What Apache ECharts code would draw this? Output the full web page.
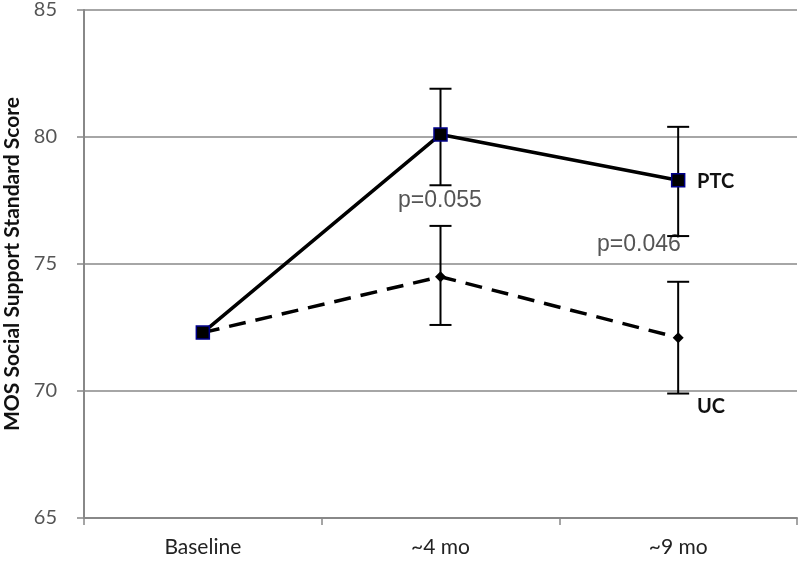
<!DOCTYPE html>
<html>
<head>
<meta charset="utf-8">
<script src="https://cdn.jsdelivr.net/npm/echarts@6/dist/echarts.min.js"></script>
<style>
  html, body { margin: 0; padding: 0; background: #fff; }
  #box1 { width: 800px; height: 561px; }
</style>
</head>
<body>
<div id="box1"></div>
<script>
// categories and values
const categories = ["Baseline", "~4 mo", "~9 mo"];
const ptcMean = [72.3, 80.1, 78.3];
const ptcLow = [null, 78.1, 76.1];
const ptcHigh = [null, 81.9, 80.4];
const ucMean = [72.3, 74.5, 72.1];
const ucLow = [null, 72.6, 69.9];
const ucHigh = [null, 76.5, 74.3];
const yTicks = [65, 70, 75, 80, 85];

const fontFam = "Lato, 'Open Sans', sans-serif";
const pFont = "'Liberation Sans', Arial, sans-serif";

// error bar data [categoryIndex, low, high]
function barData(low, high) {
  const out = [];
  for (let i = 0; i < categories.length; i++) {
    if (low[i] != null) out.push([i, low[i], high[i]]);
  }
  return out;
}

function renderErr(params, api) {
  const x = api.value(0);
  const lo = api.coord([x, api.value(1)]);
  const hi = api.coord([x, api.value(2)]);
  const w = 11;
  const st = { stroke: "#000", lineWidth: 2 };
  return {
    type: "group",
    children: [
      { type: "line", shape: { x1: lo[0], y1: lo[1], x2: hi[0], y2: hi[1] }, style: st },
      { type: "line", shape: { x1: lo[0] - w, y1: lo[1], x2: lo[0] + w, y2: lo[1] }, style: st },
      { type: "line", shape: { x1: hi[0] - w, y1: hi[1], x2: hi[0] + w, y2: hi[1] }, style: st },
    ],
  };
}

let myCharts = echarts.init(document.getElementById("box1"));
myCharts.setOption({
  animation: false,
  grid: { left: 84, right: 3, top: 10, bottom: 43, outerBoundsMode: "none", containLabel: false },
  xAxis: {
    type: "category",
    data: categories,
    boundaryGap: true,
    axisLine: { lineStyle: { color: "#888", width: 2 } },
    axisTick: { show: true, length: 7, lineStyle: { color: "#888", width: 1.5 } },
    axisLabel: { color: "#222", fontSize: 21, fontFamily: fontFam, margin: 19 },
  },
  yAxis: {
    type: "value",
    min: 65,
    max: 85,
    interval: 5,
    name: "MOS Social Support Standard Score",
    nameLocation: "middle",
    nameGap: 55,
    nameTextStyle: { color: "#111", fontSize: 21, fontWeight: "bold", fontFamily: fontFam },
    axisLine: { show: true, lineStyle: { color: "#888", width: 2 } },
    axisTick: { show: true, length: 7, lineStyle: { color: "#888", width: 1.5 } },
    axisLabel: {
      color: "#555", fontSize: 20, fontFamily: fontFam, margin: 27,
      formatter: (v) => (yTicks.indexOf(v) >= 0 ? String(v) : ""),
    },
    splitLine: { show: true, lineStyle: { color: "#888", width: 1.5 } },
  },
  series: [
    {
      name: "UC",
      type: "line",
      data: ucMean,
      symbol: "diamond",
      symbolSize: 11,
      itemStyle: { color: "#000" },
      lineStyle: { color: "#000", width: 3.5, type: [17, 10] },
      z: 3,
    },
    {
      name: "UC err",
      type: "custom",
      data: barData(ucLow, ucHigh),
      renderItem: renderErr,
      z: 2,
    },
    {
      name: "PTC err",
      type: "custom",
      data: barData(ptcLow, ptcHigh),
      renderItem: renderErr,
      z: 2,
    },
    {
      name: "PTC",
      type: "line",
      data: ptcMean,
      symbol: "rect",
      symbolSize: 13,
      itemStyle: { color: "#000", borderColor: "#00008b", borderWidth: 1.5 },
      lineStyle: { color: "#000", width: 3.5 },
      z: 4,
    },
  ],
  graphic: [
    { type: "text", left: 398, top: 189, style: { text: "p=0.055", fill: "#555", fontSize: 23, fontFamily: pFont } },
    { type: "text", left: 597, top: 233, style: { text: "p=0.046", fill: "#555", fontSize: 23, fontFamily: pFont } },
    { type: "text", left: 697, top: 172, style: { text: "PTC", fill: "#111", fontSize: 20, fontWeight: "bold", fontFamily: fontFam } },
    { type: "text", left: 697, top: 397, style: { text: "UC", fill: "#111", fontSize: 20, fontWeight: "bold", fontFamily: fontFam } },
  ],
});
</script>
</body>
</html>
